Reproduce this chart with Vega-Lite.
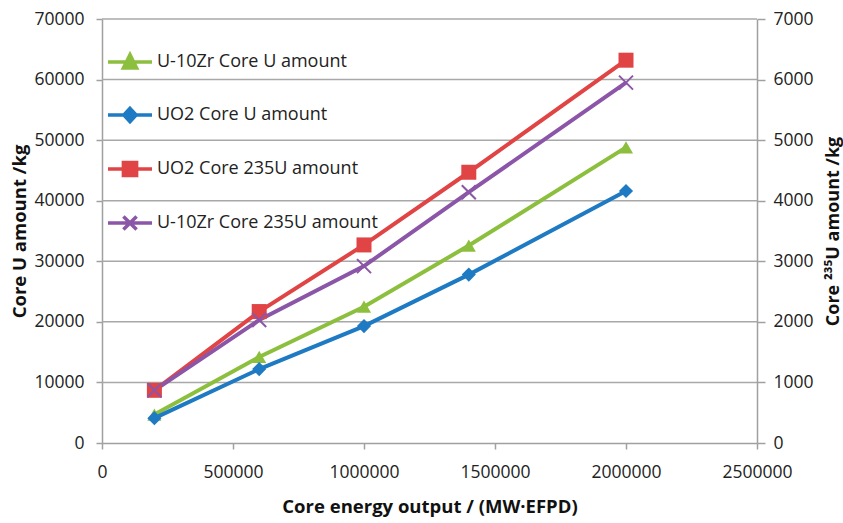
{
  "$schema": "https://vega.github.io/schema/vega-lite/v6.json",
  "width": 655,
  "height": 424,
  "autosize": "none",
  "padding": {"left": 102, "top": 19, "right": 86, "bottom": 80},
  "background": "white",
  "config": {
    "font": "Open Sans",
    "view": {"stroke": null},
    "axis": {
      "labelFont": "Open Sans",
      "labelFontSize": 17.5,
      "labelColor": "#222222",
      "titleFont": "Open Sans",
      "titleFontSize": 18.5,
      "titleFontWeight": "bold",
      "titleColor": "#111111",
      "domainColor": "#A0A0A0",
      "domainWidth": 1.5,
      "tickColor": "#A0A0A0",
      "tickWidth": 1.5
    }
  },
  "data": {
    "values": [
      {"series": "U-10Zr Core U amount", "axis": "left", "energy": 200000, "amount": 4700},
      {"series": "U-10Zr Core U amount", "axis": "left", "energy": 600000, "amount": 14200},
      {"series": "U-10Zr Core U amount", "axis": "left", "energy": 1000000, "amount": 22500},
      {"series": "U-10Zr Core U amount", "axis": "left", "energy": 1400000, "amount": 32600},
      {"series": "U-10Zr Core U amount", "axis": "left", "energy": 2000000, "amount": 48800},
      {"series": "UO2 Core U amount", "axis": "left", "energy": 200000, "amount": 4100},
      {"series": "UO2 Core U amount", "axis": "left", "energy": 600000, "amount": 12200},
      {"series": "UO2 Core U amount", "axis": "left", "energy": 1000000, "amount": 19300},
      {"series": "UO2 Core U amount", "axis": "left", "energy": 1400000, "amount": 27800},
      {"series": "UO2 Core U amount", "axis": "left", "energy": 2000000, "amount": 41600},
      {"series": "UO2 Core 235U amount", "axis": "right", "energy": 200000, "amount": 870},
      {"series": "UO2 Core 235U amount", "axis": "right", "energy": 600000, "amount": 2170},
      {"series": "UO2 Core 235U amount", "axis": "right", "energy": 1000000, "amount": 3270},
      {"series": "UO2 Core 235U amount", "axis": "right", "energy": 1400000, "amount": 4470},
      {"series": "UO2 Core 235U amount", "axis": "right", "energy": 2000000, "amount": 6320},
      {"series": "U-10Zr Core 235U amount", "axis": "right", "energy": 200000, "amount": 870},
      {"series": "U-10Zr Core 235U amount", "axis": "right", "energy": 600000, "amount": 2030},
      {"series": "U-10Zr Core 235U amount", "axis": "right", "energy": 1000000, "amount": 2920},
      {"series": "U-10Zr Core 235U amount", "axis": "right", "energy": 1400000, "amount": 4140},
      {"series": "U-10Zr Core 235U amount", "axis": "right", "energy": 2000000, "amount": 5950}
    ]
  },
  "layer": [
    {"transform": [{"aggregate": [{"op": "count", "as": "n"}]}], "mark": {"type": "rule", "color": "#A8A8A8", "strokeWidth": 1.5}, "encoding": {"x": {"datum": 0, "type": "quantitative"}, "x2": {"datum": 2500000}, "y": {"datum": 10000, "type": "quantitative", "scale": {"domain": [0, 70000], "nice": false}, "axis": null}}},
    {"transform": [{"aggregate": [{"op": "count", "as": "n"}]}], "mark": {"type": "rule", "color": "#A8A8A8", "strokeWidth": 1.5}, "encoding": {"x": {"datum": 0, "type": "quantitative"}, "x2": {"datum": 2500000}, "y": {"datum": 20000, "type": "quantitative", "scale": {"domain": [0, 70000], "nice": false}, "axis": null}}},
    {"transform": [{"aggregate": [{"op": "count", "as": "n"}]}], "mark": {"type": "rule", "color": "#A8A8A8", "strokeWidth": 1.5}, "encoding": {"x": {"datum": 0, "type": "quantitative"}, "x2": {"datum": 2500000}, "y": {"datum": 30000, "type": "quantitative", "scale": {"domain": [0, 70000], "nice": false}, "axis": null}}},
    {"transform": [{"aggregate": [{"op": "count", "as": "n"}]}], "mark": {"type": "rule", "color": "#A8A8A8", "strokeWidth": 1.5}, "encoding": {"x": {"datum": 0, "type": "quantitative"}, "x2": {"datum": 2500000}, "y": {"datum": 40000, "type": "quantitative", "scale": {"domain": [0, 70000], "nice": false}, "axis": null}}},
    {"transform": [{"aggregate": [{"op": "count", "as": "n"}]}], "mark": {"type": "rule", "color": "#A8A8A8", "strokeWidth": 1.5}, "encoding": {"x": {"datum": 0, "type": "quantitative"}, "x2": {"datum": 2500000}, "y": {"datum": 50000, "type": "quantitative", "scale": {"domain": [0, 70000], "nice": false}, "axis": null}}},
    {"transform": [{"aggregate": [{"op": "count", "as": "n"}]}], "mark": {"type": "rule", "color": "#A8A8A8", "strokeWidth": 1.5}, "encoding": {"x": {"datum": 0, "type": "quantitative"}, "x2": {"datum": 2500000}, "y": {"datum": 60000, "type": "quantitative", "scale": {"domain": [0, 70000], "nice": false}, "axis": null}}},
    {"transform": [{"aggregate": [{"op": "count", "as": "n"}]}], "mark": {"type": "rule", "color": "#A8A8A8", "strokeWidth": 1.5}, "encoding": {"x": {"datum": 0, "type": "quantitative"}, "x2": {"datum": 2500000}, "y": {"datum": 70000, "type": "quantitative", "scale": {"domain": [0, 70000], "nice": false}, "axis": null}}},
    {
      "transform": [{"filter": "datum.axis == 'left'"}],
      "mark": {"type": "line", "strokeWidth": 4},
      "encoding": {
        "x": {
          "field": "energy",
          "type": "quantitative",
          "scale": {"domain": [0, 2500000], "nice": false, "zero": true},
          "axis": {
            "title": "Core energy output / (MW·EFPD)",
            "values": [0, 500000, 1000000, 1500000, 2000000, 2500000],
            "format": "d",
            "grid": false,
            "tickSize": 6,
            "labelPadding": 14,
            "titlePadding": 17,
            "labelFlush": false
          }
        },
        "y": {
          "field": "amount",
          "type": "quantitative",
          "scale": {"domain": [0, 70000], "nice": false},
          "axis": {
            "title": "Core U amount /kg",
            "orient": "left",
            "values": [0, 10000, 20000, 30000, 40000, 50000, 60000, 70000],
            "format": "d",
            "grid": false,
            "tickSize": 6,
            "labelPadding": 12,
            "titlePadding": 4
          }
        },
        "color": {
          "field": "series",
          "type": "nominal",
          "scale": {
            "domain": ["U-10Zr Core U amount", "UO2 Core U amount", "UO2 Core 235U amount", "U-10Zr Core 235U amount"],
            "range": ["#8DBF3F", "#1E7AC3", "#E04444", "#8B55A8"]
          },
          "legend": {
            "title": null,
            "orient": "none",
            "legendX": 4,
            "legendY": 19,
            "padding": 0,
            "symbolSize": 1936,
            "symbolStrokeWidth": 3.5,
            "rowPadding": 16,
            "labelOffset": 3,
            "labelLimit": 400,
            "labelFont": "Open Sans",
            "labelFontSize": 18,
            "labelColor": "#222222",
            "encode": {
              "symbols": {
                "update": {
                  "shape": {"signal": "datum.value == 'U-10Zr Core U amount' ? 'M-1,0H1M-0.3,0.27L0,-0.33L0.3,0.27Z' : datum.value == 'UO2 Core U amount' ? 'M-1,0H1M0,-0.3L0.28,0L0,0.3L-0.28,0Z' : datum.value == 'UO2 Core 235U amount' ? 'M-1,0H1M-0.3,-0.3H0.3V0.3H-0.3Z' : 'M-1,0H1M-0.3,-0.3L0.3,0.3M-0.3,0.3L0.3,-0.3'"},
                  "fill": {"scale": "color", "field": "value"},
                  "stroke": {"scale": "color", "field": "value"},
                  "opacity": {"value": 1}
                }
              }
            }
          }
        }
      }
    },
    {
      "transform": [{"filter": "datum.axis == 'left'"}],
      "mark": {"type": "point", "filled": true, "opacity": 1, "size": 200},
      "encoding": {
        "x": {"field": "energy", "type": "quantitative"},
        "y": {"field": "amount", "type": "quantitative", "scale": {"domain": [0, 70000], "nice": false}, "axis": null},
        "color": {"field": "series", "type": "nominal"},
        "shape": {"field": "series", "type": "nominal", "scale": {"domain": ["U-10Zr Core U amount", "UO2 Core U amount"], "range": ["triangle-up", "diamond"]}, "legend": null}
      }
    },
    {
      "transform": [{"filter": "datum.axis == 'right'"}],
      "mark": {"type": "line", "strokeWidth": 4},
      "encoding": {
        "x": {"field": "energy", "type": "quantitative"},
        "y": {
          "field": "amount",
          "type": "quantitative",
          "scale": {"domain": [0, 7000], "nice": false},
          "axis": {
            "title": "Core ²³⁵U amount /kg",
            "orient": "right",
            "values": [0, 1000, 2000, 3000, 4000, 5000, 6000, 7000],
            "format": "d",
            "grid": false,
            "tickSize": 8,
            "labelPadding": 8,
            "titleAngle": 270,
            "titleBaseline": "top",
            "titleFontSize": 18,
            "titlePadding": 11
          }
        },
        "color": {"field": "series", "type": "nominal"}
      }
    },
    {
      "transform": [{"filter": "datum.series == 'UO2 Core 235U amount'"}],
      "mark": {"type": "point", "shape": "square", "filled": true, "opacity": 1, "size": 225},
      "encoding": {
        "x": {"field": "energy", "type": "quantitative"},
        "y": {"field": "amount", "type": "quantitative", "scale": {"domain": [0, 7000], "nice": false}, "axis": null},
        "color": {"field": "series", "type": "nominal"}
      }
    },
    {
      "transform": [{"filter": "datum.series == 'U-10Zr Core 235U amount'"}],
      "mark": {"type": "point", "shape": "M-1,-1L1,1M-1,1L1,-1", "filled": false, "opacity": 1, "strokeWidth": 2, "size": 196},
      "encoding": {
        "x": {"field": "energy", "type": "quantitative"},
        "y": {"field": "amount", "type": "quantitative", "scale": {"domain": [0, 7000], "nice": false}, "axis": null},
        "color": {"field": "series", "type": "nominal"}
      }
    }
  ],
  "resolve": {"scale": {"y": "independent"}}
}
